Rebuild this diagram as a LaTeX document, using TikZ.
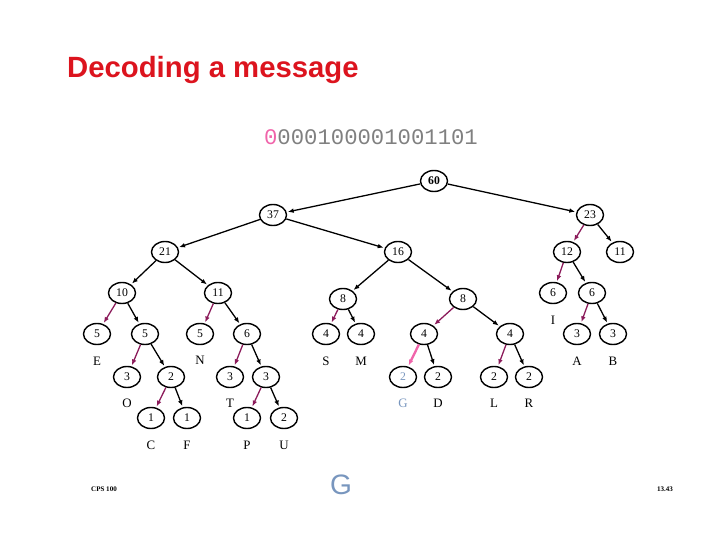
\documentclass[tikz,border=0pt]{standalone}
\usepackage{fontspec}
\setmainfont{Liberation Serif}
\setsansfont{Liberation Sans}
\setmonofont{Liberation Mono}
\usetikzlibrary{arrows.meta,shapes.geometric}
\definecolor{zerocol}{RGB}{139,26,90}
\definecolor{gcol}{RGB}{240,100,170}
\definecolor{titlecol}{RGB}{220,20,30}
\definecolor{glet}{RGB}{120,150,190}
\tikzset{
  wt/.style={ellipse, draw, line width=1.2pt, minimum width=27*0.03cm, minimum height=21*0.03cm, inner sep=0pt, font=\fontsize{10}{10}\selectfont},
  sym/.style={font=\fontsize{11}{11}\selectfont},
  one/.style={-{Latex[length=5pt,width=4pt]}, line width=1.1pt, shorten >=1pt},
  zero/.style={one, draw=zerocol},
}
\begin{document}
\begin{tikzpicture}[x=0.03cm,y=-0.03cm]
    \useasboundingbox (0,0) rectangle (720,540);
    %\draw[help lines] (0,0) grid (720,540);
    \node[anchor=west, inner sep=0pt, text=titlecol, font=\sffamily\bfseries\fontsize{25}{25}\selectfont] (title) at (67,70) {Decoding a message};
    \node[font=\ttfamily\fontsize{19}{19}\selectfont, text=gray] (bits) at (371,137) {\textcolor{gcol}{0}000100001001101};

    % weights
    \node[wt, font=\bfseries\fontsize{10}{10}\selectfont] (n60) at (434,181) {60};
    \node[wt] (n37) at (273,215) {37};
    \node[wt] (n23) at (590,215) {23};
    \node[wt] (n21) at (165,252) {21};
    \node[wt] (n16) at (398,252) {16};
    \node[wt] (n12) at (567,252) {12};
    \node[wt] (n11b) at (620,252) {11};
    \node[wt] (n10) at (122,293) {10};
    \node[wt] (n11) at (218,293) {11};
    \node[wt] (n8a) at (343,299) {8};
    \node[wt] (n8b) at (463,299) {8};
    \node[wt] (n6i) at (553,293) {6};
    \node[wt] (n6b) at (592,293) {6};
    \node[wt] (n5e) at (97,334) {5};
    \node[wt] (n5) at (145,334) {5};
    \node[wt] (n5n) at (200,334) {5};
    \node[wt] (n6) at (247,334) {6};
    \node[wt] (n4s) at (326,334) {4};
    \node[wt] (n4m) at (361,334) {4};
    \node[wt] (n4a) at (424,334) {4};
    \node[wt] (n4b) at (510,334) {4};
    \node[wt] (n3a) at (577,334) {3};
    \node[wt] (n3b) at (613,334) {3};
    \node[wt] (n3o) at (127,377) {3};
    \node[wt] (n2) at (171,377) {2};
    \node[wt] (n3t) at (230,377) {3};
    \node[wt] (n3) at (266,377) {3};
    \node[wt, text=glet] (n2g) at (403,377) {2};
    \node[wt] (n2d) at (438,377) {2};
    \node[wt] (n2l) at (494,377) {2};
    \node[wt] (n2r) at (529,377) {2};
    \node[wt] (n1c) at (151,418) {1};
    \node[wt] (n1f) at (187,418) {1};
    \node[wt] (n1p) at (247,418) {1};
    \node[wt] (n2u) at (284,418) {2};

    % symbols
    \node[sym] (E) at (97,361) {E};
    \node[sym] (O) at (127,403) {O};
    \node[sym] (C) at (151,445) {C};
    \node[sym] (F) at (187,445) {F};
    \node[sym] (N) at (200,360) {N};
    \node[sym] (T) at (230,403) {T};
    \node[sym] (P) at (247,445) {P};
    \node[sym] (U) at (284,445) {U};
    \node[sym] (S) at (326,361) {S};
    \node[sym] (M) at (361,361) {M};
    \node[sym, text=glet] (G) at (403,403) {G};
    \node[sym] (D) at (438,403) {D};
    \node[sym] (L) at (494,403) {L};
    \node[sym] (R) at (529,403) {R};
    \node[sym] (I) at (553,320) {I};
    \node[sym] (A) at (577,361) {A};
    \node[sym] (B) at (613,361) {B};

    % edges
    \draw[one] (n60) -- (n37);
    \draw[one] (n60) -- (n23);
    \draw[one] (n37) -- (n21);
    \draw[one] (n37) -- (n16);
    \draw[one] (n21) -- (n10);
    \draw[one] (n21) -- (n11);
    \draw[one] (n16) -- (n8a);
    \draw[one] (n16) -- (n8b);
    \draw[zero] (n23) -- (n12);
    \draw[one] (n23) -- (n11b);
    \draw[zero] (n12) -- (n6i);
    \draw[one] (n12) -- (n6b);
    \draw[zero] (n6b) -- (n3a);
    \draw[one] (n6b) -- (n3b);
    \draw[zero] (n10) -- (n5e);
    \draw[one] (n10) -- (n5);
    \draw[zero] (n5) -- (n3o);
    \draw[one] (n5) -- (n2);
    \draw[zero] (n2) -- (n1c);
    \draw[one] (n2) -- (n1f);
    \draw[zero] (n11) -- (n5n);
    \draw[one] (n11) -- (n6);
    \draw[zero] (n6) -- (n3t);
    \draw[one] (n6) -- (n3);
    \draw[zero] (n3) -- (n1p);
    \draw[one] (n3) -- (n2u);
    \draw[zero] (n8a) -- (n4s);
    \draw[one] (n8a) -- (n4m);
    \draw[zero] (n8b) -- (n4a);
    \draw[one] (n8b) -- (n4b);
    \draw[zero, draw=gcol, line width=2pt] (n4a) -- (n2g);
    \draw[one] (n4a) -- (n2d);
    \draw[zero] (n4b) -- (n2l);
    \draw[one] (n4b) -- (n2r);

    % footer
    \node[text=glet, font=\sffamily\fontsize{24}{24}\selectfont] (bigg) at (341,485) {G};
    \node[font=\bfseries\fontsize{6}{6}\selectfont] (course) at (104,489) {CPS 100};
    \node[font=\bfseries\fontsize{6}{6}\selectfont] (page) at (665,489) {13.43};
\end{tikzpicture}
\end{document}
